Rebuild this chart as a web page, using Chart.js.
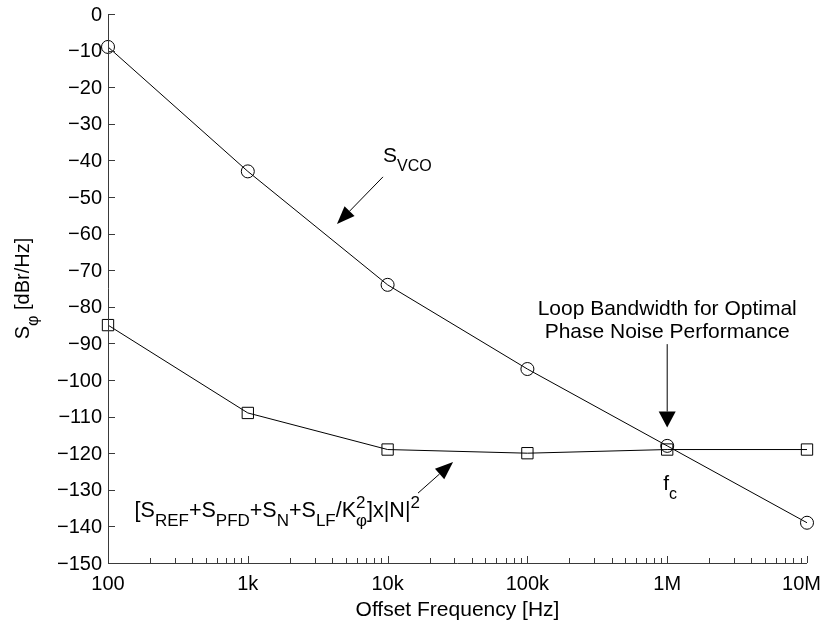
<!DOCTYPE html>
<html>
<head>
<meta charset="utf-8">
<script src="https://cdn.jsdelivr.net/npm/chart.js@4.4.0/dist/chart.umd.min.js"></script>
<style>
    body { margin: 0; background: #fff; }
    canvas { display: block; }
</style>
</head>
<body>
<canvas id="phaseNoise" width="824" height="624"></canvas>
<script>
// chart data
const freqs = [100, 1000, 10000, 100000, 1000000, 10000000];
const vcoNoise = [-9, -43, -74, -97, -118, -139];
const loopNoise = [-85, -109, -119, -120, -119, -119];

// tick labels
const xTickValues = [100, 1000, 10000, 100000, 1000000, 10000000];
const xTickLabels = ['100', '1k', '10k', '100k', '1M', '10M'];
const yTickValues = [0, -10, -20, -30, -40, -50, -60, -70, -80, -90, -100, -110, -120, -130, -140, -150];

const FONT = '"Liberation Sans", Arial, Helvetica, sans-serif';
const INK = '#000';
const AXIS = '#3a3a3a';

// draw text made of normal / sub / sup parts, returns end x
const drawRich = (ctx, parts, x, y, size) => {
    const small = Math.round(size * 0.78);
    for (const part of parts) {
        if (part.stack) {
            // superscript and subscript on the same place
            ctx.font = `${small}px ${FONT}`;
            ctx.fillText(part.sup, x, y - size * 0.42);
            ctx.fillText(part.sub, x, y + size * 0.42);
            x += Math.max(ctx.measureText(part.sup).width, ctx.measureText(part.sub).width);
            continue;
        }
        let dy = 0;
        if (part.mode === 'sub') {
            ctx.font = `${small}px ${FONT}`;
            dy = size * 0.44;
        } else if (part.mode === 'sup') {
            ctx.font = `${small}px ${FONT}`;
            dy = -size * 0.42;
        } else {
            ctx.font = `${size}px ${FONT}`;
        }
        ctx.fillText(part.text, x, y + dy);
        x += ctx.measureText(part.text).width;
    }
    return x;
};

const richWidth = (ctx, parts, size) => {
    ctx.save();
    ctx.globalAlpha = 0;
    const w = drawRich(ctx, parts, 0, 0, size);
    ctx.restore();
    return w;
};

// arrow with filled head, tip at (x2, y2)
const drawArrow = (ctx, x1, y1, x2, y2, headLen, headWidth) => {
    const ang = Math.atan2(y2 - y1, x2 - x1);
    const bx = x2 - headLen * Math.cos(ang);
    const by = y2 - headLen * Math.sin(ang);
    ctx.beginPath();
    ctx.moveTo(x1, y1);
    ctx.lineTo(bx, by);
    ctx.lineWidth = 1;
    ctx.strokeStyle = INK;
    ctx.stroke();
    const nx = -Math.sin(ang) * headWidth / 2;
    const ny = Math.cos(ang) * headWidth / 2;
    ctx.beginPath();
    ctx.moveTo(x2, y2);
    ctx.lineTo(bx + nx, by + ny);
    ctx.lineTo(bx - nx, by - ny);
    ctx.closePath();
    ctx.fillStyle = INK;
    ctx.fill();
};

// axes, ticks, labels and notes
const axesPlugin = {
    id: 'matlabAxes',
    afterDraw(chart) {
        const ctx = chart.ctx;
        const xs = chart.scales.x;
        const ys = chart.scales.y;
        const area = chart.chartArea;
        const px = (f) => xs.getPixelForValue(f);
        const py = (v) => ys.getPixelForValue(v);

        ctx.save();
        ctx.strokeStyle = AXIS;
        ctx.lineWidth = 1;

        // axis lines
        ctx.beginPath();
        ctx.moveTo(area.left + 0.5, area.top);
        ctx.lineTo(area.left + 0.5, area.bottom + 0.5);
        ctx.lineTo(area.right, area.bottom + 0.5);
        ctx.stroke();

        // y ticks (inward)
        ctx.beginPath();
        for (const v of yTickValues) {
            const y = Math.round(py(v)) + 0.5;
            ctx.moveTo(area.left, y);
            ctx.lineTo(area.left + 7, y);
        }
        // x ticks, major and minor (inward)
        for (let d = 100; d <= 10000000; d *= 10) {
            const x = Math.round(px(d)) + 0.5;
            ctx.moveTo(x, area.bottom);
            ctx.lineTo(x, area.bottom - 7);
            if (d < 10000000) {
                for (let m = 2; m <= 9; m++) {
                    const xm = Math.round(px(d * m)) + 0.5;
                    ctx.moveTo(xm, area.bottom);
                    ctx.lineTo(xm, area.bottom - 5);
                }
            }
        }
        ctx.stroke();

        // tick labels
        ctx.fillStyle = INK;
        ctx.font = `20px ${FONT}`;
        ctx.textAlign = 'right';
        ctx.textBaseline = 'middle';
        for (const v of yTickValues) {
            const txt = v < 0 ? '\u2212' + Math.abs(v) : String(v);
            ctx.fillText(txt, area.left - 6, py(v) + 1);
        }
        ctx.textAlign = 'center';
        ctx.textBaseline = 'alphabetic';
        xTickValues.forEach((f, i) => {
            // keep the last label inside the canvas
            const w = ctx.measureText(xTickLabels[i]).width;
            const x = Math.min(px(f), chart.width - 3 - w / 2);
            ctx.fillText(xTickLabels[i], x, area.bottom + 27);
        });

        // axis titles
        ctx.font = `21px ${FONT}`;
        ctx.fillText('Offset Frequency [Hz]', (area.left + area.right) / 2, area.bottom + 53);

        ctx.textAlign = 'left';
        const yTitle = [{ text: 'S', mode: 'n' }, { text: '\u03c6', mode: 'sub' }, { text: ' [dBr/Hz]', mode: 'n' }];
        const tw = richWidth(ctx, yTitle, 20);
        ctx.save();
        ctx.translate(29, (area.top + area.bottom) / 2);
        ctx.rotate(-Math.PI / 2);
        drawRich(ctx, yTitle, -tw / 2, 0, 20);
        ctx.restore();

        // S_VCO note
        drawRich(ctx, [{ text: 'S', mode: 'n' }, { text: 'VCO', mode: 'sub' }], px(9270), py(-40.4), 21);
        drawArrow(ctx, px(9270), py(-44.5), px(4345), py(-57.4), 18, 14);

        // loop bandwidth note
        ctx.textAlign = 'center';
        ctx.font = `21px ${FONT}`;
        ctx.fillText('Loop Bandwidth for Optimal', px(1000000), py(-82.3));
        ctx.fillText('Phase Noise Performance', px(1000000), py(-88.6));
        drawArrow(ctx, px(1000000), py(-90.2), px(1000000), py(-113), 16, 17);

        // f_c note
        ctx.textAlign = 'left';
        drawRich(ctx, [{ text: 'f', mode: 'n' }, { text: 'c', mode: 'sub' }], px(1000000) - 4, py(-130), 21);

        // loop noise note
        const noteParts = [
            { text: '[S', mode: 'n' }, { text: 'REF', mode: 'sub' },
            { text: '+S', mode: 'n' }, { text: 'PFD', mode: 'sub' },
            { text: '+S', mode: 'n' }, { text: 'N', mode: 'sub' },
            { text: '+S', mode: 'n' }, { text: 'LF', mode: 'sub' },
            { text: '/K', mode: 'n' }, { stack: true, sup: '2', sub: '\u03c6' },
            { text: ']x|N|', mode: 'n' }, { text: '2', mode: 'sup' }
        ];
        drawRich(ctx, noteParts, px(155), py(-137.4), 21.5);
        drawArrow(ctx, px(16500), py(-130.9), px(29400), py(-122.4), 18, 14);

        ctx.restore();
    }
};

const vcoPoints = freqs.map((f, i) => ({ x: f, y: vcoNoise[i] }));
const loopPoints = freqs.map((f, i) => ({ x: f, y: loopNoise[i] }));

const ctx = document.getElementById('phaseNoise');

new Chart(ctx, {
    type: 'line',
    data: {
        datasets: [{
            label: 'S_VCO',
            data: vcoPoints,
            borderColor: INK,
            borderWidth: 1,
            pointStyle: 'circle',
            pointRadius: 6.5,
            pointBorderColor: INK,
            pointBorderWidth: 1,
            pointBackgroundColor: 'rgba(0,0,0,0)',
            tension: 0,
            clip: false
        }, {
            label: 'loop',
            data: loopPoints,
            borderColor: INK,
            borderWidth: 1,
            pointStyle: 'rect',
            pointRadius: 8,
            pointBorderColor: INK,
            pointBorderWidth: 1,
            pointBackgroundColor: 'rgba(0,0,0,0)',
            tension: 0,
            clip: false
        }]
    },
    options: {
        responsive: false,
        animation: false,
        layout: {
            padding: { left: 108, right: 17, top: 14, bottom: 61 }
        },
        scales: {
            x: { type: 'logarithmic', min: 100, max: 10000000, display: false },
            y: { type: 'linear', min: -150, max: 0, display: false }
        },
        plugins: {
            legend: { display: false },
            tooltip: { enabled: false }
        }
    },
    plugins: [axesPlugin]
});
</script>
</body>
</html>
